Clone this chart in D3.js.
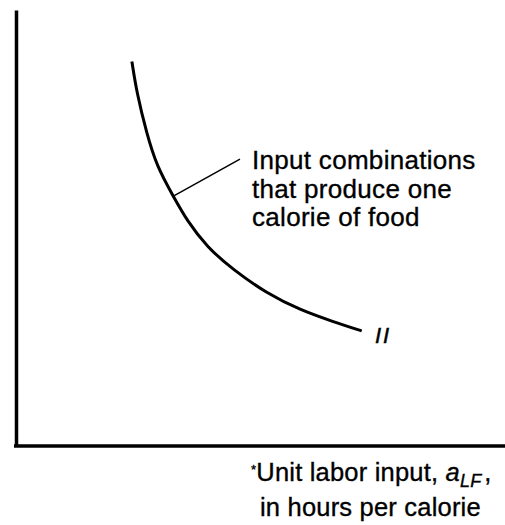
<!DOCTYPE html>
<html><head><meta charset="utf-8">
<script src="https://cdn.jsdelivr.net/npm/d3@7"></script>
<style>body{margin:0;background:#fff}svg{display:block}text{font-family:"Liberation Sans",Arial,sans-serif;fill:#000}</style>
</head><body>
<script>
// Isoquant: unit labor input (x) vs unit land input (y), arbitrary units 0-100
const curveX = [23.7, 24.7, 26.7, 28.8, 32.2, 34.9, 39.0, 44.4, 51.3, 58.1, 64.9, 70.7];
const curveY = [88.2, 81.0, 71.8, 64.1, 57.2, 51.8, 45.7, 40.4, 35.0, 31.2, 28.5, 26.4];
const annotationLines = ["Input combinations", "that produce one", "calorie of food"];
const curveLabel = "II";
const xLabelLines = ["Unit labor input, ", "in hours per calorie"];

const W = 505, H = 525;
const svg = d3.select("body").append("svg").attr("width", W).attr("height", H);
const x = d3.scaleLinear().domain([0, 100]).range([16, 505]);
const y = d3.scaleLinear().domain([0, 100]).range([446, 10]);

const gx = svg.append("g").attr("transform", `translate(0,${y(0)})`)
  .call(d3.axisBottom(x).ticks(0).tickSizeOuter(0));
const gy = svg.append("g").attr("transform", `translate(${x(0)},0)`)
  .call(d3.axisLeft(y).ticks(0).tickSizeOuter(0));
gx.select(".domain").attr("stroke-width", 3.5).attr("d", `M${x(0)-2},0H${x(100)}`);
gy.select(".domain").attr("stroke-width", 3.5);

const pts = curveX.map((v, i) => [v, curveY[i]]);
svg.append("path").datum(pts)
  .attr("fill", "none").attr("stroke", "#000").attr("stroke-width", 3)
  .attr("d", d3.line().x(d => x(d[0])).y(d => y(d[1])).curve(d3.curveBasis));

// leader line from curve to annotation
svg.append("line")
  .attr("x1", x(32.0)).attr("y1", y(57.2))
  .attr("x2", x(45.8)).attr("y2", y(65.8))
  .attr("stroke", "#000").attr("stroke-width", 1.5);

const ann = svg.append("text").attr("font-size", 26).attr("letter-spacing", 0.3)
  .attr("stroke", "#000").attr("stroke-width", 0.35);
annotationLines.forEach((t, i) => {
  ann.append("tspan").attr("x", 252).attr("y", 169 + i * 28.5).text(t);
});

svg.append("text").attr("x", 375).attr("y", 343).attr("font-size", 22)
  .attr("font-style", "italic").attr("letter-spacing", 2)
  .attr("stroke", "#000").attr("stroke-width", 0.5).text(curveLabel);

const xl = svg.append("text").attr("font-size", 25.5).attr("letter-spacing", 0.2)
  .attr("stroke", "#000").attr("stroke-width", 0.35);
const l1 = xl.append("tspan").attr("x", 251).attr("y", 481);
l1.append("tspan").attr("font-size", 13).attr("dy", -7).text("*");
l1.append("tspan").attr("dy", 7).text(xLabelLines[0]);
l1.append("tspan").attr("font-style", "italic").text("a");
l1.append("tspan").attr("font-style", "italic").attr("font-size", 18).attr("dy", 6).text("LF");
l1.append("tspan").attr("dy", -6).attr("dx", 3).text(",");
xl.append("tspan").attr("x", 260).attr("y", 516).text(xLabelLines[1]);
</script>
</body></html>
